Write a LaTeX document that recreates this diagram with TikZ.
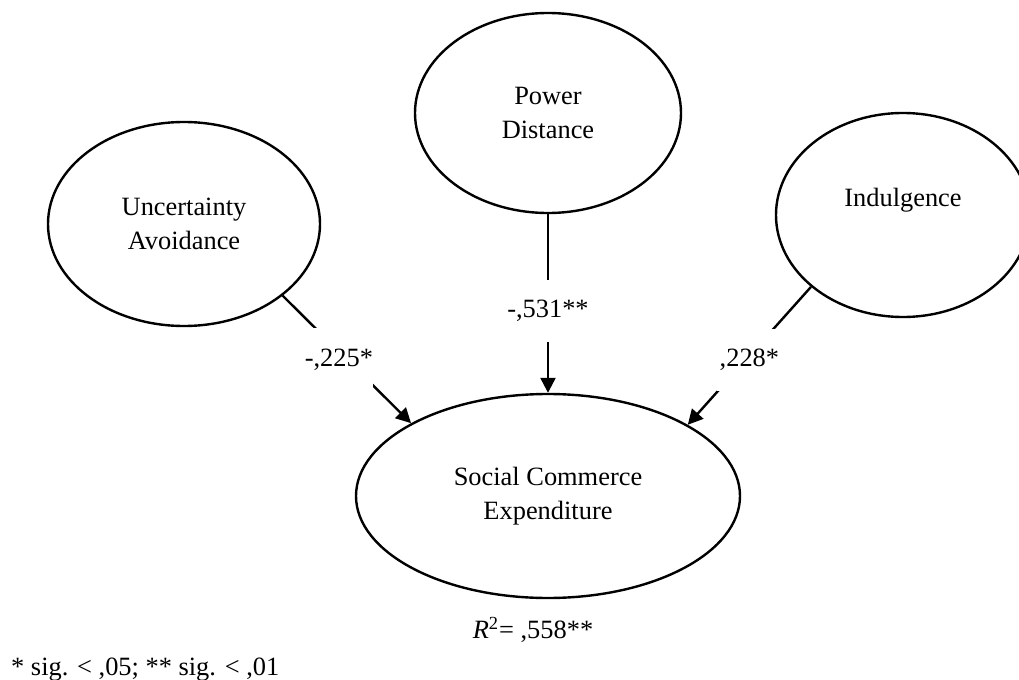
\documentclass[tikz,border=0pt]{standalone}
\usepackage{fontspec}
\setmainfont{Liberation Serif}
\usetikzlibrary{shapes.geometric,arrows.meta}
\begin{document}
\begin{tikzpicture}[x=0.5pt,y=-0.5pt,line width=1.2pt,
  every node/.style={font=\fontsize{13.2}{17}\selectfont},
  latent/.style={draw,ellipse,inner sep=0pt,align=center},
  coef/.style={fill=white,inner sep=0pt,minimum width=32pt,minimum height=31pt},
  effect/.style={-{Triangle[length=7.5pt,width=7.5pt]}}]
\useasboundingbox (0,0) rectangle (1019,680);
\node[latent,minimum width=136pt,minimum height=102pt] (ua) at (184,224) {Uncertainty\\Avoidance};
\node[latent,minimum width=133pt,minimum height=100pt] (pd) at (548,113) {Power\\Distance};
\node[latent,minimum width=127pt,minimum height=102pt,
  label={[yshift=7.5pt]center:Indulgence}] (ind) at (903,215) {};
\node[latent,minimum width=192pt,minimum height=102pt] (sce) at (548,496) {Social Commerce\\Expenditure};
\draw[effect] (ua.-36.5) -- (sce.152.6) node[coef,pos=0.5,xshift=-4pt] {-,225*};
\draw[effect] (pd.south) -- (sce.north) node[coef,pos=0.54] {-,531**};
\draw[effect] (ind.218.7) -- (sce.27.5) node[coef,pos=0.5,yshift=-2pt] {,228*};
\node[anchor=base] (r2) at (533,638) {\textit{R}\textsuperscript{2}= ,558**};
\node[anchor=base west,inner sep=0pt] (note) at (10,675) {* sig. < ,05; ** sig. < ,01};
\end{tikzpicture}
\end{document}
